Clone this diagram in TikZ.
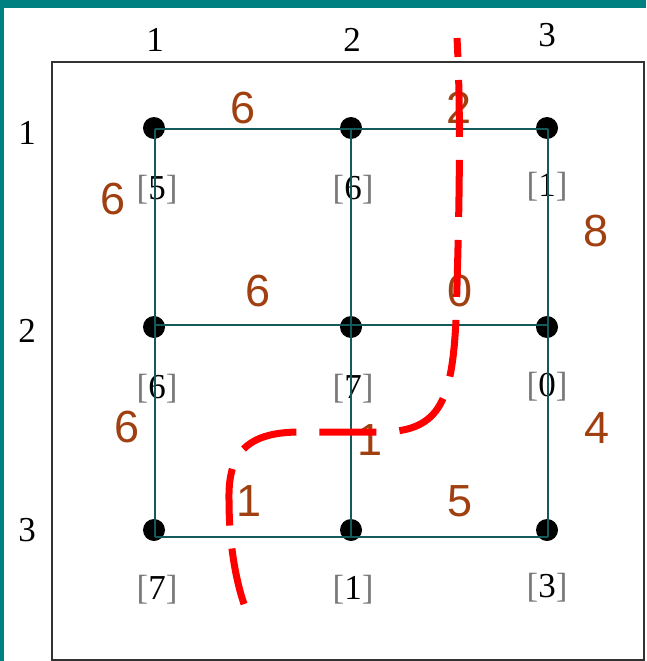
\documentclass[tikz,border=0pt]{standalone}
\usepackage{fontspec}
\setmainfont{Liberation Serif}
\newfontfamily\wfont{Liberation Sans}
\definecolor{framec}{RGB}{0,128,128}
\definecolor{gridc}{RGB}{20,90,90}
\definecolor{wcol}{RGB}{160,64,16}
\definecolor{brk}{RGB}{120,120,120}
\begin{document}
\begin{tikzpicture}[x=1pt,y=-1pt,
  lab/.style={font=\fontsize{35}{35}\selectfont, inner sep=0pt},
  val/.style={font=\fontsize{35}{35}\selectfont, inner sep=0pt},
  wt/.style={font=\wfont\fontsize{45}{45}\selectfont, text=wcol, inner sep=0pt},
  dot/.style={circle, fill=black, minimum size=22pt, inner sep=0pt},
  gridline/.style={draw=gridc, line width=2pt},
  cut/.style={draw=red, line width=7pt, dash pattern=on 57pt off 23pt, dash phase=38pt}]
\fill[framec] (0,0) rectangle (646,661);
\fill[white] (4,8) rectangle (646,661);
\useasboundingbox (0,0) rectangle (646,661);
\draw[line width=2pt, black!80] (52,62) rectangle (644,660);

% column and row labels
\node[lab] (col1) at (155,40) {1};
\node[lab] (col2) at (352,40) {2};
\node[lab] (col3) at (547,35) {3};
\node[lab] (row1) at (27,133) {1};
\node[lab] (row2) at (27,331) {2};
\node[lab] (row3) at (27,530) {3};

% node values
\newcommand{\bv}[1]{\textcolor{brk}{[}#1\textcolor{brk}{]}}
\node[val] (v11) at (157,190) {\bv{5}};
\node[val] (v12) at (353,190) {\bv{6}};
\node[val] (v13) at (547,187) {\bv{1}};
\node[val] (v21) at (157,389) {\bv{6}};
\node[val] (v22) at (353,389) {\bv{7}};
\node[val] (v23) at (547,387) {\bv{0}};
\node[val] (v31) at (157,590) {\bv{7}};
\node[val] (v32) at (353,590) {\bv{1}};
\node[val] (v33) at (547,588) {\bv{3}};

% dots
\node[dot] (d11) at (154,128) {};
\node[dot] (d12) at (351,128) {};
\node[dot] (d13) at (547,128) {};
\node[dot] (d21) at (154,327) {};
\node[dot] (d22) at (351,327) {};
\node[dot] (d23) at (547,327) {};
\node[dot] (d31) at (154,530) {};
\node[dot] (d32) at (351,530) {};
\node[dot] (d33) at (547,530) {};

% grid corners
\coordinate (g11) at (155,129);
\coordinate (g12) at (351,129);
\coordinate (g13) at (548,129);
\coordinate (g21) at (155,325);
\coordinate (g22) at (351,325);
\coordinate (g23) at (548,325);
\coordinate (g31) at (155,537);
\coordinate (g32) at (351,537);
\coordinate (g33) at (548,537);
\draw[gridline] (g11) -- (g13);
\draw[gridline] (g21) -- (g23);
\draw[gridline] (g31) -- (g33);
\draw[gridline] (g11) -- (g31);
\draw[gridline] (g12) -- (g32);
\draw[gridline] (g13) -- (g33);

% weights
\node[wt] (w1) at (243,108) {6};
\node[wt] (w2) at (459,108) {2};
\node[wt] (w3) at (113,199) {6};
\node[wt] (w4) at (596,231) {8};
\node[wt] (w5) at (258,291) {6};
\node[wt] (w6) at (460,291) {0};
\node[wt] (w7) at (127,427) {6};
\node[wt] (w8) at (370,440) {1};
\node[wt] (w9) at (597,428) {4};
\node[wt] (w10) at (249,501) {1};
\node[wt] (w11) at (460,501) {5};

% cut line
\coordinate (c0) at (457,38);
\coordinate (c1) at (456,320);
\coordinate (c2) at (385,432);
\coordinate (c3) at (300,432);
\coordinate (c4) at (229,500);
\coordinate (c5) at (247,612);
\draw[cut] (c0) .. controls (462,130) and (458,250) .. (c1)
  .. controls (452,400) and (440,430) .. (c2) -- (c3)
  .. controls (245,432) and (228,455) .. (c4)
  .. controls (229,550) and (238,590) .. (c5);
\end{tikzpicture}
\end{document}
